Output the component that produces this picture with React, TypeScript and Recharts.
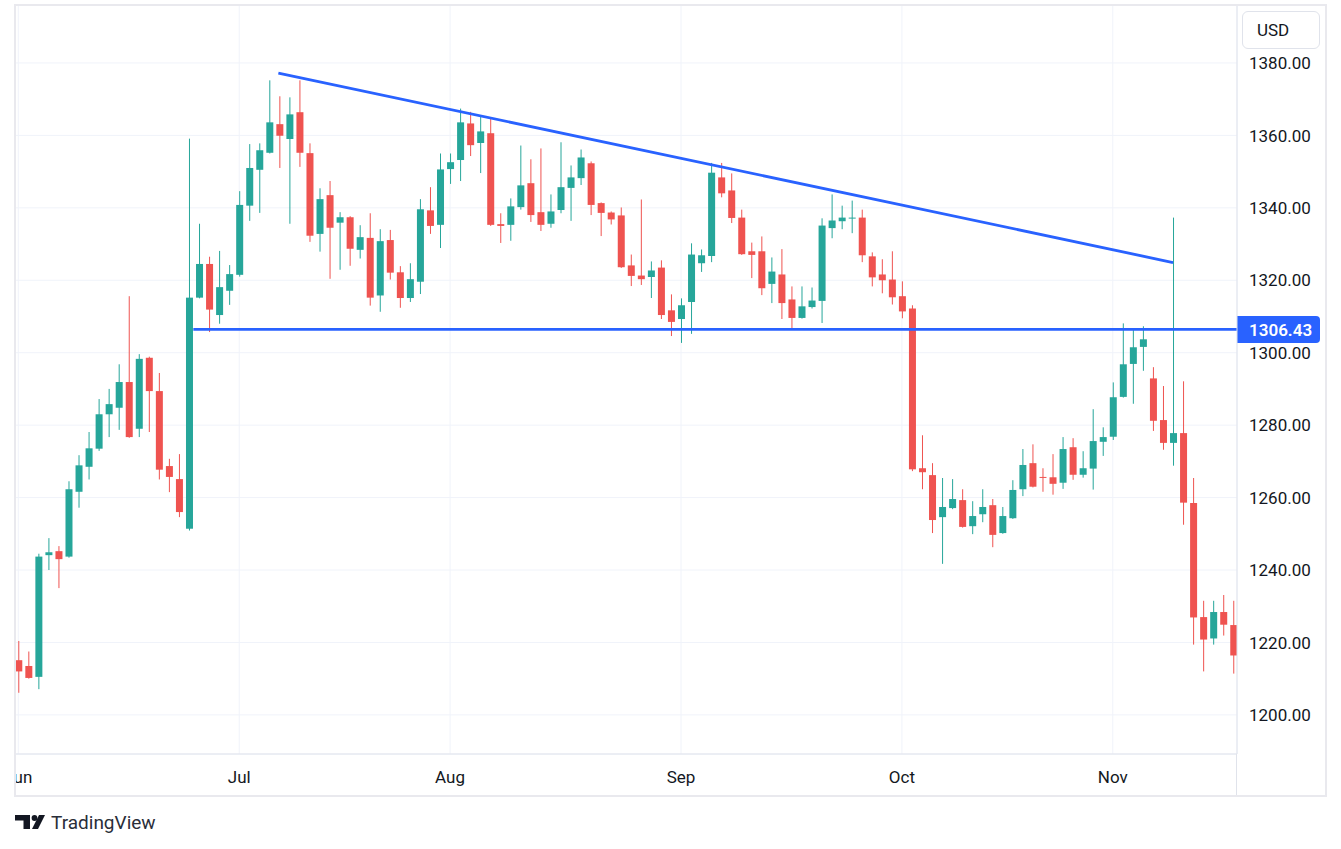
import React from 'react'
import {
  ComposedChart,
  Bar,
  XAxis,
  YAxis,
  CartesianGrid,
  ReferenceLine,
} from 'recharts'

const GREEN = '#26a69a'
const RED = '#ef5350'
const BLUE = '#2962ff'
const TEXT = '#131722'
const BORDER = '#e0e3eb'
const FONT = 'Roboto, "Noto Sans", sans-serif'

// daily candles, Jun -> mid Nov
const OPEN = [
  1215.1, 1213.5, 1210.5, 1244.1, 1245.2, 1243.7, 1261.6, 1268.5, 1273.5, 1283.0,
  1284.8, 1291.9, 1279.0, 1298.6, 1289.4, 1268.7, 1265.1, 1251.4, 1315.2, 1324.5,
  1310.4, 1317.1, 1321.5, 1340.6, 1350.5, 1355.2, 1363.1, 1359.0, 1366.4, 1355.1,
  1332.8, 1343.5, 1335.9, 1337.4, 1328.4, 1331.7, 1315.8, 1331.1, 1322.2, 1315.1,
  1319.6, 1339.3, 1335.3, 1350.7, 1353.2, 1363.3, 1357.9, 1360.6, 1335.5, 1335.3,
  1340.2, 1346.8, 1338.8, 1335.6, 1339.4, 1345.5, 1348.2, 1352.3, 1341.3, 1338.7,
  1337.9, 1324.1, 1321.3, 1320.9, 1323.5, 1311.7, 1309.3, 1314.0, 1324.7, 1326.7,
  1348.4, 1344.8, 1337.3, 1328.0, 1328.0, 1319.0, 1321.6, 1314.7, 1309.6, 1312.6,
  1314.3, 1334.4, 1336.3, 1337.1, 1337.3, 1326.6, 1321.6, 1320.2, 1315.6, 1312.2,
  1268.1, 1266.2, 1254.6, 1257.1, 1259.3, 1252.1, 1255.4, 1257.9, 1250.2, 1254.3,
  1262.3, 1269.5, 1265.7, 1265.6, 1264.1, 1273.9, 1266.3, 1268.0, 1275.4, 1276.8,
  1287.8, 1296.9, 1301.6, 1292.9, 1281.4, 1275.1, 1277.8, 1258.5, 1227.0, 1221.1,
  1228.4, 1224.8,
]
const HIGH = [
  1220.4, 1217.5, 1244.5, 1248.8, 1246.6, 1264.5, 1271.7, 1278.1, 1287.2, 1290.0,
  1296.8, 1315.6, 1299.6, 1298.9, 1294.4, 1270.7, 1272.0, 1359.1, 1335.6, 1326.5,
  1328.1, 1324.2, 1344.6, 1357.6, 1357.8, 1375.2, 1370.8, 1370.5, 1375.2, 1357.8,
  1345.4, 1347.4, 1338.8, 1337.7, 1335.2, 1338.5, 1334.1, 1333.9, 1323.9, 1324.7,
  1342.4, 1345.7, 1355.0, 1355.0, 1367.4, 1366.5, 1365.1, 1364.7, 1338.5, 1342.6,
  1357.2, 1353.4, 1356.4, 1343.7, 1358.1, 1351.7, 1356.1, 1352.8, 1341.5, 1339.0,
  1340.1, 1327.1, 1342.3, 1325.2, 1325.5, 1316.1, 1315.0, 1330.2, 1328.5, 1352.4,
  1352.4, 1349.5, 1339.5, 1330.4, 1332.1, 1326.3, 1328.6, 1318.3, 1318.3, 1318.0,
  1337.1, 1343.7, 1340.6, 1342.0, 1339.5, 1327.7, 1325.8, 1328.0, 1319.7, 1313.1,
  1277.2, 1269.5, 1265.4, 1265.1, 1262.3, 1259.0, 1262.3, 1259.6, 1257.4, 1264.8,
  1273.4, 1274.7, 1268.1, 1272.0, 1276.7, 1276.4, 1272.8, 1284.4, 1279.4, 1291.8,
  1308.1, 1306.7, 1307.3, 1296.0, 1290.8, 1337.3, 1292.1, 1265.4, 1231.5, 1231.5,
  1233.1, 1231.5,
]
const LOW = [
  1206.1, 1210.0, 1207.1, 1240.0, 1235.0, 1243.4, 1257.2, 1265.0, 1272.9, 1276.7,
  1278.7, 1276.5, 1276.7, 1278.1, 1265.0, 1261.5, 1254.6, 1250.9, 1315.0, 1305.7,
  1308.0, 1313.2, 1321.0, 1336.4, 1338.6, 1355.0, 1351.0, 1335.6, 1351.3, 1330.6,
  1327.9, 1320.4, 1322.9, 1324.0, 1326.0, 1313.0, 1311.3, 1320.2, 1312.4, 1314.0,
  1316.2, 1332.8, 1328.9, 1346.6, 1347.4, 1354.3, 1349.6, 1335.0, 1330.3, 1330.9,
  1339.5, 1336.1, 1333.6, 1334.5, 1338.5, 1336.4, 1346.3, 1338.0, 1332.2, 1335.4,
  1323.4, 1318.4, 1318.7, 1315.1, 1309.3, 1304.6, 1302.7, 1305.2, 1322.3, 1325.0,
  1342.9, 1335.8, 1327.0, 1320.6, 1315.9, 1313.7, 1309.3, 1306.5, 1309.4, 1312.2,
  1308.2, 1331.6, 1334.1, 1333.0, 1325.0, 1318.3, 1316.4, 1313.3, 1309.5, 1267.3,
  1262.3, 1250.2, 1241.7, 1256.8, 1251.7, 1249.9, 1253.2, 1246.3, 1250.0, 1254.1,
  1260.4, 1262.8, 1261.6, 1260.8, 1262.4, 1264.9, 1265.5, 1262.2, 1271.5, 1275.9,
  1287.6, 1285.9, 1295.0, 1278.4, 1273.2, 1268.8, 1252.5, 1219.4, 1212.0, 1219.4,
  1221.9, 1211.4,
]
const CLOSE = [
  1212.0, 1210.2, 1243.7, 1244.9, 1243.0, 1262.3, 1268.9, 1273.6, 1283.0, 1285.8,
  1291.9, 1276.7, 1298.3, 1289.4, 1267.7, 1265.7, 1256.0, 1315.2, 1324.5, 1311.9,
  1318.1, 1321.7, 1340.8, 1351.0, 1355.9, 1363.6, 1359.9, 1365.8, 1355.2, 1332.3,
  1342.4, 1334.5, 1337.4, 1328.7, 1331.9, 1315.2, 1330.8, 1322.1, 1315.1, 1320.3,
  1339.6, 1335.0, 1350.6, 1352.6, 1363.6, 1357.3, 1361.1, 1335.3, 1335.0, 1340.4,
  1346.2, 1338.0, 1335.3, 1339.0, 1345.7, 1348.4, 1353.9, 1340.8, 1338.6, 1336.8,
  1323.6, 1321.2, 1320.3, 1322.7, 1310.4, 1308.5, 1313.1, 1327.1, 1326.9, 1349.7,
  1344.0, 1337.2, 1327.2, 1327.0, 1317.8, 1322.4, 1313.7, 1309.6, 1312.8, 1314.4,
  1335.1, 1336.5, 1337.3, 1337.3, 1326.9, 1320.8, 1320.0, 1315.3, 1311.4, 1267.8,
  1267.0, 1253.8, 1257.4, 1259.6, 1251.9, 1254.9, 1257.4, 1249.7, 1254.9, 1262.1,
  1269.0, 1263.0, 1265.5, 1263.8, 1273.4, 1266.3, 1268.1, 1275.6, 1276.7, 1287.7,
  1296.8, 1301.5, 1303.7, 1281.2, 1275.1, 1277.8, 1258.6, 1226.9, 1220.8, 1228.4,
  1224.9, 1216.4,
]

// candle index where each month starts
const MONTH_TICKS = [0, 22, 43, 66, 88, 109]
const MONTH_LABELS = ['Jun', 'Jul', 'Aug', 'Sep', 'Oct', 'Nov']
const PRICE_TICKS = [1200, 1220, 1240, 1260, 1280, 1300, 1320, 1340, 1360, 1380]

// drawings: support level and falling trend line (candle index, price)
const SUPPORT_PRICE = 1306.43
const SUPPORT_FROM = 17.43
const TREND_FROM = { x: 25.9, y: 1377.2 }
const TREND_TO = { x: 115, y: 1324.9 }

const X_DOMAIN: [number, number] = [-0.329, 121.37]
const Y_DOMAIN: [number, number] = [1189.2, 1396.0]

const candles = OPEN.map((open, i) => ({
  i,
  open,
  high: HIGH[i],
  low: LOW[i],
  close: CLOSE[i],
}))

const Candle = (props: any) => {
  const { x, y, width, height, payload } = props
  if (!payload || width == null) return null
  const { open, close, high, low } = payload
  const top = Math.min(y, y + height)
  const h = Math.abs(height)
  const ratio = h / (high - low)
  const yOf = (v: number) => top + (high - v) * ratio
  const color = close >= open ? GREEN : RED
  const cx = x + width / 2
  const bodyTop = yOf(Math.max(open, close))
  const bodyBot = yOf(Math.min(open, close))
  return (
    <g>
      <line x1={cx} x2={cx} y1={top} y2={top + h} stroke={color} strokeWidth={1} />
      <rect
        x={x}
        y={bodyTop}
        width={width}
        height={Math.max(1, bodyBot - bodyTop)}
        fill={color}
      />
    </g>
  )
}

const TimeTick = (props: any) => {
  const { x, payload } = props
  const idx = MONTH_TICKS.indexOf(payload.value)
  return (
    <text
      x={x}
      y={772}
      textAnchor="middle"
      dominantBaseline="central"
      fill={TEXT}
      fontSize={17}
      fontFamily={FONT}
    >
      {MONTH_LABELS[idx]}
    </text>
  )
}

const PriceTick = (props: any) => {
  const { y, payload } = props
  return (
    <text
      x={1234}
      y={y}
      dy="0.36em"
      textAnchor="start"
      fill={TEXT}
      fontSize={17}
      fontFamily={FONT}
    >
      {payload.value.toFixed(2)}
    </text>
  )
}

const PriceTag = (props: any) => {
  const vb = props.viewBox || {}
  const left = vb.x + vb.width
  const cy = vb.y
  const w = 83
  const h = 27
  const r = 4
  const d = `M${left},${cy - h / 2} H${left + w - r} Q${left + w},${cy - h / 2} ${left + w},${cy - h / 2 + r} V${cy + h / 2 - r} Q${left + w},${cy + h / 2} ${left + w - r},${cy + h / 2} H${left} Z`
  return (
    <g>
      <path d={d} fill={BLUE} />
      <text
        x={left + 12}
        y={cy}
        dy="0.36em"
        fill="#ffffff"
        fontSize={17}
        fontWeight={600}
        fontFamily={FONT}
      >
        {SUPPORT_PRICE.toFixed(2)}
      </text>
    </g>
  )
}

export default function App() {
  return (
    <div
      style={{
        position: 'absolute',
        left: 0,
        top: 0,
        width: 1341,
        height: 849,
        background: '#ffffff',
        fontFamily: FONT,
      }}
    >
      <div
        style={{
          position: 'absolute',
          left: 15,
          top: 5,
          width: 1312,
          height: 791,
          overflow: 'hidden',
        }}
      >
        <ComposedChart
          width={1312}
          height={791}
          data={candles}
          margin={{ top: 0, right: 0, bottom: 0, left: 0 }}
        >
          <CartesianGrid stroke="#f0f3fa" strokeWidth={1} />
          <XAxis
            type="number"
            dataKey="i"
            domain={X_DOMAIN}
            allowDataOverflow
            ticks={MONTH_TICKS}
            interval={0}
            height={42}
            tickLine={false}
            axisLine={{ stroke: BORDER }}
            tick={<TimeTick />}
          />
          <YAxis
            orientation="right"
            type="number"
            domain={Y_DOMAIN}
            allowDataOverflow
            ticks={PRICE_TICKS}
            interval={0}
            width={90}
            tickLine={false}
            axisLine={{ stroke: BORDER }}
            tick={<PriceTick />}
          />
          <Bar
            dataKey={(d: any) => [d.low, d.high]}
            barSize={7}
            shape={<Candle />}
            isAnimationActive={false}
          />
          <ReferenceLine
            segment={[
              { x: SUPPORT_FROM, y: SUPPORT_PRICE },
              { x: X_DOMAIN[1], y: SUPPORT_PRICE },
            ]}
            stroke={BLUE}
            strokeWidth={2.8}
          />
          <ReferenceLine
            segment={[TREND_FROM, TREND_TO]}
            stroke={BLUE}
            strokeWidth={2.8}
          />
          <ReferenceLine
            y={SUPPORT_PRICE}
            stroke="none"
            strokeWidth={0}
            label={<PriceTag />}
          />
        </ComposedChart>
      </div>
      {/* price scale separator through the time scale row */}
      <div
        style={{
          position: 'absolute',
          left: 1236,
          top: 754,
          width: 1,
          height: 42,
          background: BORDER,
        }}
      />
      {/* outer frame */}
      <div
        style={{
          position: 'absolute',
          left: 14,
          top: 4,
          width: 1313,
          height: 793,
          boxSizing: 'border-box',
          border: '2px solid #e9e9ee',
          pointerEvents: 'none',
        }}
      />
      <div
        style={{
          position: 'absolute',
          left: 1242,
          top: 11,
          width: 78,
          height: 38,
          boxSizing: 'border-box',
          border: `1px solid ${BORDER}`,
          borderRadius: 6,
          background: '#ffffff',
          color: TEXT,
          fontSize: 17,
          lineHeight: '36px',
          paddingLeft: 14,
        }}
      >
        USD
      </div>
      <div
        style={{
          position: 'absolute',
          left: 15,
          top: 811,
          display: 'flex',
          alignItems: 'center',
          gap: 6,
          color: '#2a2e39',
          fontSize: 19,
        }}
      >
        <svg width={30} height={15} viewBox="0 0 30 15">
          <path d="M0 0 H15 V14 H8.5 V5.5 H0 Z" fill="#131722" />
          <circle cx={19.5} cy={3} r={2.9} fill="#131722" />
          <path d="M24 0 H30 L23 14 H17 Z" fill="#131722" />
        </svg>
        <span>TradingView</span>
      </div>
    </div>
  )
}
